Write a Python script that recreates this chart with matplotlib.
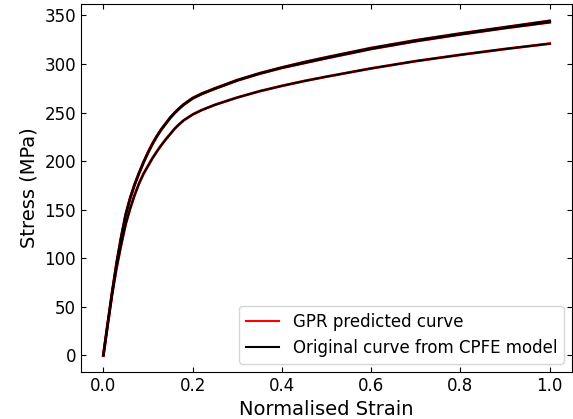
import numpy as np
import matplotlib
matplotlib.use("Agg")
from matplotlib import pyplot as plt

# strain points (normalised) and stress values (MPa)
strain = [0.0, 0.01, 0.02, 0.03, 0.04, 0.05, 0.06, 0.07, 0.08, 0.09, 0.10,
          0.11, 0.12, 0.13, 0.14, 0.15, 0.16, 0.17, 0.18, 0.20, 0.22, 0.25,
          0.30, 0.35, 0.40, 0.45, 0.50, 0.60, 0.70, 0.80, 0.90, 1.0]
stress_a = [0, 33, 66, 96, 122, 145, 162, 176, 188, 199, 209,
            218, 226, 233, 239, 245, 250, 254.5, 258.5, 265, 269.5, 275,
            283.5, 290.5, 296.5, 302, 307, 316.5, 324.5, 331.5, 338, 344.5]
stress_b = [0, 33, 65.5, 95.5, 121.5, 144.5, 161.5, 175.5, 187.5, 198.5, 208.5,
            217.5, 225.5, 232.5, 238.5, 244.5, 249.5, 254, 258, 264.5, 269, 274.5,
            283, 290, 296, 301, 306, 315.5, 323.5, 330.5, 337, 343]
stress_c = [0, 33, 64, 91, 114, 135, 151, 165, 177, 187, 195,
            203, 210, 216.5, 222.5, 228, 233.5, 238, 242, 248, 252.5, 258,
            265.5, 272, 277.5, 282.5, 287, 295.5, 303, 309.5, 315.5, 321]

orig = [stress_a, stress_b, stress_c]
pred = [stress_a, stress_b, stress_c]

fig = plt.figure(figsize=(5.73, 4.19), dpi=100)
ax = fig.add_axes([0.1414, 0.1122, 0.857, 0.878])

for i, ys in enumerate(pred):
    ax.plot(strain, ys, color='red', lw=2.0,
            label='GPR predicted curve' if i == 0 else None)
for i, ys in enumerate(orig):
    ax.plot(strain, ys, color='black', lw=1.5,
            label='Original curve from CPFE model' if i == 0 else None)

ax.set_xlabel('Normalised Strain', fontsize=14)
ax.set_ylabel('Stress (MPa)', fontsize=14)
ax.set_xticks([0.0, 0.2, 0.4, 0.6, 0.8, 1.0])
ax.set_yticks(np.arange(0, 351, 50))
ax.tick_params(direction='in', top=True, right=True, labelsize=12)
leg = ax.legend(loc='lower right', fontsize=12)
for h in leg.get_lines():
    h.set_linewidth(1.5)

fig.savefig('out.png', dpi=100)
